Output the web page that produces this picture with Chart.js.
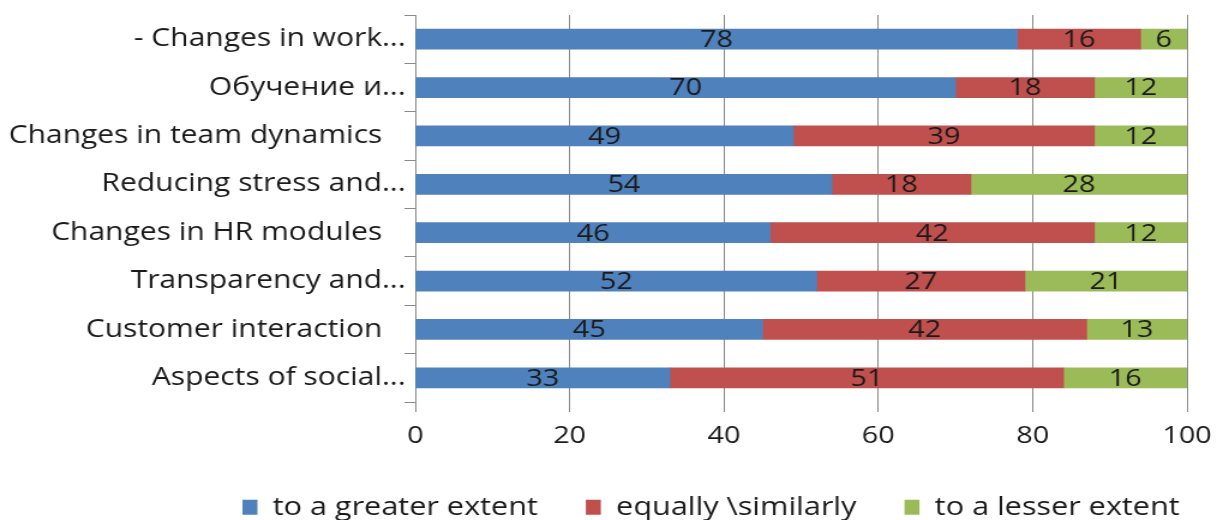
<!DOCTYPE html>
<html>
<head>
<meta charset="utf-8">
<script src="https://cdn.jsdelivr.net/npm/chart.js@4/dist/chart.umd.min.js"></script>
<style>
  html, body { margin: 0; padding: 0; background: #fff; overflow: hidden; }
  #wrap { width: 1019px; height: 520px; transform: scaleX(1.2002); transform-origin: 0 0; }
  canvas { display: block; }
</style>
</head>
<body>
<div id="wrap"><canvas id="c" width="1019" height="520" style="width:1019px;height:520px"></canvas></div>
<script>
const categories = [
  '- Changes in work...',
  'Обучение и...',
  'Changes in team dynamics   ',
  'Reducing stress and...',
  'Changes in HR modules   ',
  'Transparency and...',
  'Customer interaction   ',
  'Aspects of social...'
];
const greaterExtent = [78, 70, 49, 54, 46, 52, 45, 33];
const equallySimilarly = [16, 18, 39, 18, 42, 27, 42, 51];
const lesserExtent = [6, 12, 12, 28, 12, 21, 13, 16];
const seriesNames = ['to a greater extent', 'equally \\similarly', 'to a lesser extent'];
const xTicks = [0, 20, 40, 60, 80, 100];

const FONT = "'Open Sans', sans-serif";
const TEXT = '#1a1a1a';
const GRID = '#8a8a8a';

// Writes each segment's value in the middle of its bar
const segmentLabels = {
  id: 'segmentLabels',
  afterDatasetsDraw(chart) {
    const ctx = chart.ctx;
    ctx.save();
    ctx.font = '24px ' + FONT;
    ctx.fillStyle = TEXT;
    ctx.textAlign = 'center';
    ctx.textBaseline = 'middle';
    chart.data.datasets.forEach((ds, i) => {
      const meta = chart.getDatasetMeta(i);
      meta.data.forEach((bar, j) => {
        const x = (bar.x + bar.base) / 2;
        ctx.fillText(String(ds.data[j]), x, bar.y + 1);
      });
    });
    ctx.restore();
  }
};

// Moves the legend row so it starts a little right of the page centre line
const legendOffset = {
  id: 'legendOffset',
  afterLayout(chart) {
    const lg = chart.legend;
    if (!lg) return;
    const shift = 162 - lg.left;
    lg.left += shift;
    lg.right += shift;
  }
};

new Chart(document.getElementById('c'), {
  type: 'bar',
  data: {
    labels: categories,
    datasets: [
      { label: seriesNames[0], data: greaterExtent, backgroundColor: '#4F81BD' },
      { label: seriesNames[1], data: equallySimilarly, backgroundColor: '#C0504D' },
      { label: seriesNames[2], data: lesserExtent, backgroundColor: '#9BBB59' }
    ]
  },
  options: {
    indexAxis: 'y',
    responsive: false,
    animation: false,
    devicePixelRatio: 1,
    barThickness: 20,
    layout: { padding: { top: 15, right: 30, left: 0, bottom: -10 } },
    plugins: {
      legend: {
        position: 'bottom',
        align: 'start',
        labels: {
          font: { family: FONT, size: 25.5 },
          color: TEXT,
          boxWidth: 12.5,
          boxHeight: 15,
          padding: 40
        }
      },
      tooltip: { enabled: false }
    },
    scales: {
      x: {
        stacked: true,
        min: 0,
        max: 100,
        afterBuildTicks(scale) { scale.ticks = xTicks.map(v => ({ value: v })); },
        afterFit(scale) {
          scale.height = 52.5;
          scale.paddingLeft = 0;
          scale.paddingRight = 0;
        },
        ticks: { font: { family: FONT, size: 24 }, color: TEXT, padding: 10, maxRotation: 0 },
        grid: { color: GRID, lineWidth: 1, tickLength: 10, drawTicks: true },
        border: { display: false }
      },
      y: {
        stacked: true,
        afterFit(scale) {
          scale.width = 346;
          scale.paddingTop = 0;
          scale.paddingBottom = 0;
        },
        ticks: { font: { family: FONT, size: 25 }, color: TEXT, padding: -1, autoSkip: false },
        grid: { color: GRID, drawOnChartArea: false, drawTicks: true, tickLength: 9, offset: true },
        border: { display: true, color: GRID, width: 1 }
      }
    }
  },
  plugins: [segmentLabels, legendOffset]
});
</script>
</body>
</html>
